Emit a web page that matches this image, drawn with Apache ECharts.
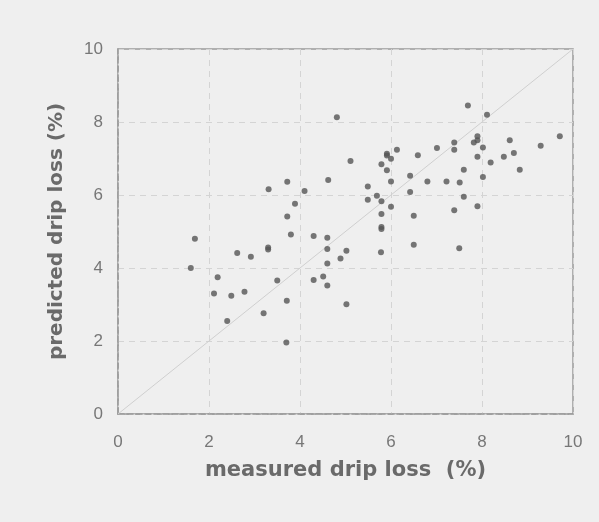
<!DOCTYPE html>
<html>
<head>
<meta charset="utf-8">
<script src="https://cdn.jsdelivr.net/npm/echarts@6/dist/echarts.min.js"></script>
<style>
html,body{margin:0;padding:0;background:#efefef;}
#chart{width:599px;height:522px;}
</style>
</head>
<body>
<div id="chart"></div>
<script>
var measured = [4.81,7.69,8.11,9.71,9.29,8.61,8.70,8.48,8.83,7.90,7.90,7.82,8.02,7.90,8.19,8.02,7.39,7.39,7.01,7.60,7.22,7.51,7.60,7.39,7.90,
6.59,6.80,6.42,6.42,6.50,6.13,5.91,5.91,6.00,5.79,5.91,6.00,5.49,5.69,5.49,5.79,6.00,5.79,5.79,5.79,5.11,4.62,4.10,3.72,3.31,3.89,3.72,
1.69,1.60,2.19,2.11,2.49,2.78,2.40,2.62,2.92,3.30,3.30,3.80,3.50,3.20,3.71,3.70,4.30,4.60,4.60,5.02,4.89,4.60,4.30,4.51,4.60,5.02,5.78,6.50,7.50];
var predicted = [8.13,8.45,8.20,7.61,7.35,7.50,7.15,7.05,6.69,7.61,7.50,7.44,7.30,7.05,6.89,6.49,7.44,7.24,7.29,6.69,6.37,6.34,5.95,5.58,5.69,
7.09,6.37,6.53,6.08,5.43,7.24,7.13,7.08,6.99,6.84,6.68,6.37,6.23,5.98,5.87,5.83,5.68,5.48,5.12,5.07,6.93,6.41,6.11,6.36,6.16,5.76,5.41,
4.80,4.00,3.75,3.30,3.24,3.35,2.55,4.41,4.31,4.56,4.51,4.92,3.66,2.76,3.10,1.96,4.88,4.83,4.52,4.47,4.26,4.12,3.67,3.77,3.52,3.01,4.43,4.64,4.54];
var identityLine = [[0,0],[10,10]];
var tickValues = [0,2,4,6,8,10];
var xTitle = 'measured drip loss  (%)';
var yTitle = 'predicted drip loss (%)';

var points = measured.map(function(m,i){return [m, predicted[i]];});

var chart = echarts.init(document.getElementById('chart'), null, {renderer:'canvas'});
var axisCommon = {
  type:'value', min:tickValues[0], max:tickValues[tickValues.length-1], interval:2,
  axisLine:{show:true, lineStyle:{color:'#9a9a9a', width:1.5, type:'dashed', dashOffset:0}},
  axisTick:{show:false},
  splitLine:{show:true, lineStyle:{color:'#d4d4d4', type:[6,5], width:1}},
  axisLabel:{color:'#777', fontFamily:'Liberation Sans, Arial, sans-serif', fontSize:17},
  nameLocation:'middle',
  nameTextStyle:{color:'#6a6a6a', fontFamily:'DejaVu Sans', fontWeight:'bold', fontSize:20}
};
chart.setOption({
  backgroundColor:'#efefef',
  animation:false,
  grid:{left:118, right:26, top:49, bottom:108, show:true, borderColor:'#9a9a9a', borderWidth:1.5, backgroundColor:'transparent'},
  xAxis: Object.assign({}, axisCommon, {
    name:xTitle, nameGap:46,
    axisLabel:Object.assign({}, axisCommon.axisLabel, {margin:20}),
    nameTextStyle:Object.assign({}, axisCommon.nameTextStyle, {fontSize:21})
  }),
  yAxis: Object.assign({}, axisCommon, {
    name:yTitle, nameGap:51,
    axisLabel:Object.assign({}, axisCommon.axisLabel, {margin:15})
  }),
  series:[
    {type:'line', data:identityLine, symbol:'none', silent:true,
     lineStyle:{color:'#cfcfcf', width:1}, z:1},
    {type:'scatter', data:points, symbol:'circle', symbolSize:6,
     itemStyle:{color:'#555555'}, z:3}
  ]
});
</script>
</body>
</html>
